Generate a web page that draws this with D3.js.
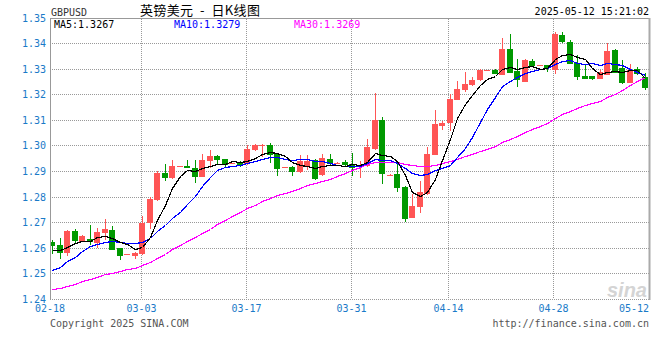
<!DOCTYPE html>
<html>
<head>
<meta charset="utf-8">
<script src="https://cdn.jsdelivr.net/npm/d3@7/dist/d3.min.js"></script>
<style>
  body { margin: 0; background: #fff; }
  svg text { font-family: "DejaVu Sans Mono", "Liberation Mono", monospace; font-size: 10px; }
</style>
</head>
<body>
<svg id="chart" width="660" height="360"></svg>
<script>
// daily candles, oldest first
const opens = [1.2624,1.2612,1.2580,1.2667,1.2625,1.2636,1.2621,1.2658,1.2671,1.2602,
  1.2575,1.2570,1.2576,1.2697,1.2788,1.2893,1.2873,1.2921,1.2922,1.2912,
  1.2877,1.2940,1.2961,1.2948,1.2930,1.2935,1.2931,1.2983,1.2998,1.3003,
  1.2970,1.2915,1.2918,1.2898,1.2916,1.2944,1.2888,1.2948,1.2935,1.2937,
  1.2931,1.2916,1.2921,1.2990,1.3100,1.2888,1.2889,1.2840,1.2719,1.2762,
  1.2811,1.2964,1.3078,1.3090,1.3178,1.3218,1.3237,1.3257,1.3295,1.3296,
  1.3276,1.3378,1.3293,1.3250,1.3331,1.3314,1.3318,1.3298,1.3435,1.3406,
  1.3324,1.3272,1.3273,1.3260,1.3279,1.3374,1.3305,1.3246,1.3302,1.3270];
const highs = [1.2634,1.2639,1.2673,1.2676,1.2651,1.2690,1.2680,1.2714,1.2689,1.2602,
  1.2578,1.2585,1.2725,1.2800,1.2901,1.2929,1.2944,1.2922,1.2947,1.2947,
  1.2970,1.2983,1.2964,1.2950,1.2933,1.2940,1.3003,1.3009,1.3009,1.3013,
  1.2972,1.2916,1.2920,1.2966,1.2966,1.2948,1.2970,1.2970,1.2936,1.2944,
  1.2973,1.2940,1.3026,1.3205,1.3113,1.2889,1.2931,1.2845,1.2814,1.2862,
  1.2996,1.3142,1.3098,1.3202,1.3254,1.3289,1.3268,1.3300,1.3297,1.3299,
  1.3422,1.3439,1.3338,1.3338,1.3341,1.3316,1.3318,1.3444,1.3445,1.3413,
  1.3354,1.3320,1.3275,1.3298,1.3404,1.3377,1.3335,1.3322,1.3309,1.3285];
const lows = [1.2578,1.2559,1.2570,1.2621,1.2624,1.2612,1.2603,1.2634,1.2593,1.2554,
  1.2574,1.2560,1.2573,1.2676,1.2784,1.2863,1.2869,1.2921,1.2912,1.2857,
  1.2877,1.2912,1.2931,1.2918,1.2929,1.2918,1.2927,1.2980,1.2957,1.2934,
  1.2883,1.2915,1.2883,1.2896,1.2906,1.2866,1.2882,1.2921,1.2934,1.2917,
  1.2883,1.2875,1.2918,1.2983,1.2850,1.2887,1.2820,1.2703,1.2719,1.2738,
  1.2807,1.2964,1.3061,1.3059,1.3178,1.3209,1.3233,1.3252,1.3295,1.3280,
  1.3276,1.3287,1.3230,1.3249,1.3309,1.3314,1.3289,1.3283,1.3404,1.3319,
  1.3259,1.3260,1.3258,1.3260,1.3276,1.3284,1.3243,1.3245,1.3276,1.3220];
const closes = [1.2608,1.2582,1.2668,1.2629,1.2647,1.2623,1.2663,1.2675,1.2593,1.2570,
  1.2577,1.2580,1.2699,1.2793,1.2895,1.2875,1.2921,1.2922,1.2913,1.2877,
  1.2944,1.2961,1.2944,1.2927,1.2932,1.2922,1.2987,1.3003,1.3002,1.2964,
  1.2909,1.2916,1.2898,1.2941,1.2940,1.2870,1.2953,1.2931,1.2935,1.2925,
  1.2912,1.2927,1.2996,1.3100,1.2889,1.2888,1.2836,1.2716,1.2766,1.2820,
  1.2968,1.3085,1.3090,1.3182,1.3221,1.3241,1.3257,1.3296,1.3297,1.3280,
  1.3378,1.3287,1.3257,1.3335,1.3311,1.3315,1.3306,1.3439,1.3406,1.3322,
  1.3269,1.3260,1.3260,1.3289,1.3370,1.3285,1.3246,1.3298,1.3283,1.3225];
// closes before the visible window, only needed for the moving averages
const earlierCloses = [1.2385,1.2410,1.2395,1.2370,1.2390,1.2405,1.2380,1.2385,
  1.2400,1.2375,1.2390,1.2385,1.2420,1.2400,1.2395,1.2425,1.2415,
  1.2440,1.2450,1.2435,1.2430,1.2445,1.2470,1.2425,1.2405,1.2585,1.2600,1.2560,1.2608];

const tickIndex = [0, 12, 26, 40, 53, 67, 79];
const tickLabels = ["02-18", "03-03", "03-17", "03-31", "04-14", "04-28", "05-12"];
const yTicks = [1.24, 1.25, 1.26, 1.27, 1.28, 1.29, 1.30, 1.31, 1.32, 1.33, 1.34, 1.35];
const maDays = [5, 10, 30];
const maColors = ["#000000", "#0000ff", "#ff00ff"];
const maLast = ["1.3267", "1.3279", "1.3269"];

let svg = d3.select("#chart");
svg.append("rect").attr("width", 660).attr("height", 360).attr("fill", "#fff");

let x = d3.scaleBand().domain(d3.range(closes.length)).range([49.5, 649.5]);
let y = d3.scaleLinear().domain([1.24, 1.35]).range([299.5, 18]);
let cx = i => x(i) + x.bandwidth() / 2;

// horizontal grid (dotted), the 1.35 line is the solid frame
svg.append("g").selectAll("line")
  .data(yTicks.filter(v => v < 1.345))
  .join("line")
  .attr("x1", 50).attr("x2", 649)
  .attr("y1", d => Math.floor(y(d)) + 0.5).attr("y2", d => Math.floor(y(d)) + 0.5)
  .attr("stroke", "#999").attr("stroke-dasharray", "1,1");

// vertical grid at the date ticks
svg.append("g").selectAll("line")
  .data(tickIndex.slice(1, -1))
  .join("line")
  .attr("x1", d => Math.floor(cx(d)) - 1.5).attr("x2", d => Math.floor(cx(d)) - 1.5)
  .attr("y1", 19).attr("y2", 299)
  .attr("stroke", "#999").attr("stroke-dasharray", "1,1");

// frame
svg.append("line").attr("x1", 50.5).attr("x2", 50.5).attr("y1", 18).attr("y2", 300).attr("stroke", "#999");
svg.append("line").attr("x1", 50).attr("x2", 650).attr("y1", 18.5).attr("y2", 18.5).attr("stroke", "#999");
svg.append("line").attr("x1", 649.5).attr("x2", 649.5).attr("y1", 18).attr("y2", 300).attr("stroke", "#aaa").attr("stroke-width", 2);

svg.append("clipPath").attr("id", "plotclip")
  .append("rect").attr("x", 51).attr("y", 19).attr("width", 597.5).attr("height", 281);

// sina watermark
svg.append("text").attr("x", 647).attr("y", 297).attr("text-anchor", "end")
  .style("font-family", "'Liberation Sans', Arial, sans-serif").style("font-size", "20px")
  .style("font-style", "italic").style("font-weight", "bold")
  .attr("fill", "#d4d4d4").text("sina");

let candles = svg.append("g").attr("clip-path", "url(#plotclip)")
  .attr("shape-rendering", "crispEdges")
  .selectAll("g").data(d3.range(closes.length)).join("g")
  .attr("fill", i => closes[i] >= opens[i] ? "#ff5555" : "#009900");

// wicks
candles.append("rect")
  .attr("x", i => Math.round(cx(i)) - 1)
  .attr("width", 1)
  .attr("y", i => Math.round(y(highs[i])))
  .attr("height", i => Math.max(1, Math.round(y(lows[i])) - Math.round(y(highs[i]))));

// bodies
candles.append("rect")
  .attr("x", i => Math.round(cx(i)) - 4)
  .attr("width", 6)
  .attr("y", i => Math.round(y(Math.max(opens[i], closes[i]))))
  .attr("height", i => Math.max(1, Math.round(y(Math.min(opens[i], closes[i]))) - Math.round(y(Math.max(opens[i], closes[i])))));

// moving averages
let allCloses = earlierCloses.concat(closes);
let off = earlierCloses.length;
function movingAvg(n) {
  return closes.map((c, i) => d3.mean(allCloses.slice(off + i - n + 1, off + i + 1)));
}

let lineGen = d3.line().x((d, i) => Math.round(cx(i)) - 0.5).y(d => Math.round(y(d)) + 0.5);
let maGroup = svg.append("g").attr("clip-path", "url(#plotclip)");
[2, 1, 0].forEach(k => {
  maGroup.append("path")
    .datum(movingAvg(maDays[k]))
    .attr("d", lineGen)
    .attr("fill", "none")
    .attr("stroke", maColors[k])
    .attr("stroke-width", 1.2)
    .attr("shape-rendering", "crispEdges");
});

// y axis labels
svg.append("g").selectAll("text")
  .data(yTicks)
  .join("text")
  .attr("x", 46).attr("y", d => Math.floor(y(d)) + 4)
  .attr("text-anchor", "end")
  .attr("fill", "#1a7ac8")
  .text(d => d.toFixed(2));

// x axis labels
svg.append("g").selectAll("text")
  .data(tickIndex)
  .join("text")
  .attr("x", (d, i) => i == tickIndex.length - 1 ? 649 : (i == 0 ? 50 : Math.floor(cx(d)) - 1.5))
  .attr("y", 312)
  .attr("text-anchor", (d, i) => i == tickIndex.length - 1 ? "end" : "middle")
  .attr("fill", "#1a7ac8")
  .text((d, i) => tickLabels[i]);

// legend row inside the plot
let legendX = [54, 174, 294];
maDays.forEach((n, k) => {
  svg.append("text").attr("x", legendX[k]).attr("y", 28)
    .attr("fill", maColors[k])
    .text("MA" + n + ":" + maLast[k]);
});

// header
svg.append("text").attr("x", 51).attr("y", 16)
  .style("font-size", "11px").attr("textLength", 36).attr("lengthAdjust", "spacingAndGlyphs")
  .attr("fill", "#333").text("GBPUSD");
svg.append("text").attr("x", 140).attr("y", 15)
  .style("font-family", "'Noto Sans CJK SC', sans-serif").style("font-size", "13px")
  .style("white-space", "pre")
  .attr("textLength", 120).attr("lengthAdjust", "spacing")
  .attr("fill", "#000").text("英镑美元  -  日K线图");
svg.append("text").attr("x", 649).attr("y", 15).attr("text-anchor", "end")
  .attr("fill", "#000").text("2025-05-12 15:21:02");

// footer
svg.append("text").attr("x", 50).attr("y", 327).attr("fill", "#555").text("Copyright 2025 SINA.COM");
svg.append("text").attr("x", 649).attr("y", 327).attr("text-anchor", "end").attr("fill", "#555").text("http://finance.sina.com.cn");
</script>
</body>
</html>
